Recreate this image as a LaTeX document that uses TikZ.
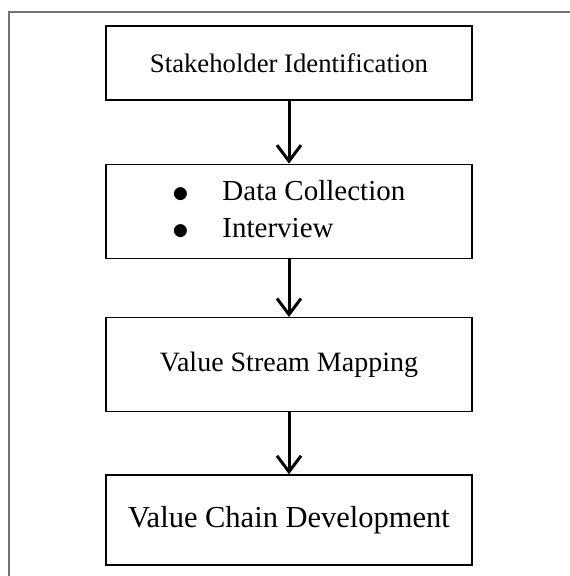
\documentclass[tikz,border=0pt]{standalone}
\usepackage{fontspec}
\setmainfont{Liberation Serif}
\usetikzlibrary{positioning,arrows.meta}

\newcommand{\itemdot}{\raisebox{-0.08em}{\scalebox{1.35}{$\bullet$}}}

\begin{document}
\begin{tikzpicture}[
      x=1pt, y=1pt,
      stage/.style={
        draw=black, line width=1.3pt, fill=white, inner sep=0pt,
        minimum width=366pt, align=center
      },
      frame/.style={draw=black!55, line width=1.3pt},
      >={Straight Barb[length=16pt,width=24pt]}
      ]

  \useasboundingbox (0,0) rectangle (570,-576);
  \draw[frame] (9,-576) -- (9,-12) -- (570,-12);

	  \node[stage, minimum height=74pt, font=\fontsize{26.7}{32}\selectfont] at (289,-63) (s1) {Stakeholder Identification};
	  \node[stage, minimum height=94pt, font=\fontsize{29}{37}\selectfont, below = 63pt of s1] (s2)
	    {\begin{tabular}{@{}l@{\hspace{33pt}}l@{}}\itemdot & Data Collection\\ \itemdot & Interview\end{tabular}};
	  \node[stage, minimum height=94pt, font=\fontsize{28}{34}\selectfont, below = 58pt of s2] (s3) {Value Stream Mapping};
	  \node[stage, minimum height=90pt, font=\fontsize{30.5}{36}\selectfont, below = 62pt of s3] (s4) {Value Chain Development};

  % Connect the nodes

  \draw[->, line width=3pt] (s1) -- (s2);
  \draw[->, line width=3pt] (s2) -- (s3);
  \draw[->, line width=3pt] (s3) -- (s4);

\end{tikzpicture}
\end{document}
